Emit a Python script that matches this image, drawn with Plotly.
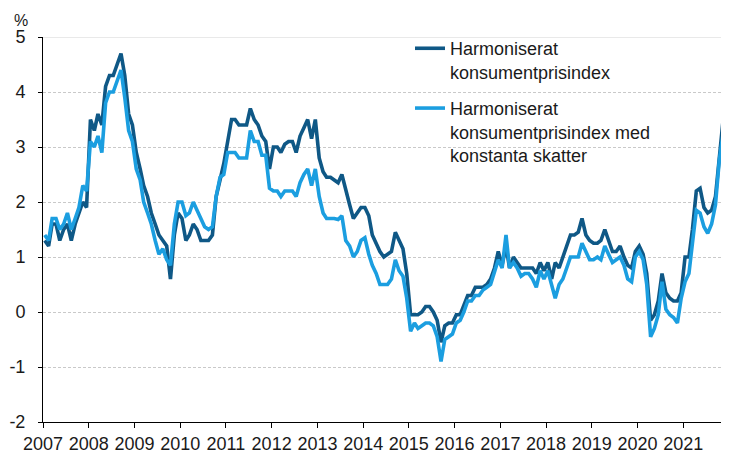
import pandas as pd
import plotly.graph_objects as go

# Monthly observations, Jan 2007 - Dec 2021 (annual change, %), plotted mid-month
months = pd.date_range("2007-01-01", "2021-12-01", freq="MS") + pd.Timedelta(days=14)

hicp = [
    1.3, 1.2, 1.6, 1.6, 1.3, 1.5, 1.6, 1.3, 1.6, 1.8, 2.0, 1.9,      # 2007
    3.5, 3.3, 3.6, 3.4, 4.1, 4.3, 4.3, 4.5, 4.7, 4.3, 3.6, 3.4,      # 2008
    2.9, 2.6, 2.3, 2.1, 1.8, 1.6, 1.4, 1.3, 1.2, 0.6, 1.4, 1.8,      # 2009
    1.7, 1.3, 1.4, 1.6, 1.5, 1.3, 1.3, 1.3, 1.4, 2.1, 2.4, 2.7,      # 2010
    3.1, 3.5, 3.5, 3.4, 3.4, 3.4, 3.7, 3.5, 3.4, 3.2, 3.1, 2.6,      # 2011
    3.0, 3.0, 2.9, 3.05, 3.1, 3.1, 2.9, 3.2, 3.35, 3.5, 3.15, 3.5,   # 2012
    2.8, 2.55, 2.45, 2.45, 2.4, 2.35, 2.5, 2.2, 1.95, 1.7, 1.8, 1.9, # 2013
    1.9, 1.75, 1.4, 1.25, 1.1, 1.0, 1.05, 1.1, 1.45, 1.3, 1.15, 0.7, # 2014
    -0.05, -0.05, -0.05, 0.0, 0.1, 0.1, 0.0, -0.15, -0.55, -0.25, -0.2, -0.2,  # 2015
    -0.05, -0.05, 0.1, 0.3, 0.3, 0.45, 0.45, 0.45, 0.5, 0.6, 0.8, 1.1,  # 2016
    0.85, 1.2, 0.8, 1.0, 0.9, 0.8, 0.8, 0.8, 0.8, 0.7, 0.9, 0.75,   # 2017
    0.9, 0.6, 0.9, 0.8, 1.0, 1.2, 1.4, 1.4, 1.45, 1.7, 1.4, 1.3,    # 2018
    1.25, 1.25, 1.3, 1.5, 1.3, 1.1, 1.1, 1.2, 1.0, 0.85, 0.8, 1.1,  # 2019
    1.2, 1.05, 0.7, -0.15, -0.05, 0.2, 0.7, 0.35, 0.25, 0.2, 0.2, 0.35,  # 2020
    1.0, 1.0, 1.5, 2.2, 2.25, 1.9, 1.8, 1.85, 2.1, 2.8, 3.5, 3.2,   # 2021
]

hicp_ct = [
    1.4, 1.3, 1.7, 1.7, 1.5, 1.6, 1.8, 1.5, 1.7, 1.9, 2.3, 2.2,      # 2007
    3.1, 3.0, 3.2, 2.9, 3.8, 4.0, 4.0, 4.2, 4.4, 3.9, 3.3, 3.1,      # 2008
    2.6, 2.4, 2.0, 1.8, 1.6, 1.3, 1.05, 1.15, 0.95, 0.85, 1.6, 2.0,  # 2009
    2.0, 1.75, 1.8, 2.0, 1.85, 1.7, 1.55, 1.5, 1.55, 2.1, 2.45, 2.5, # 2010
    2.9, 2.9, 2.9, 2.8, 2.8, 2.8, 3.3, 3.1, 3.1, 2.85, 2.85, 2.25,   # 2011
    2.2, 2.2, 2.1, 2.2, 2.2, 2.2, 2.1, 2.35, 2.5, 2.6, 2.3, 2.6,     # 2012
    2.1, 1.8, 1.7, 1.7, 1.7, 1.68, 1.75, 1.3, 1.2, 1.0, 1.1, 1.3,    # 2013
    1.35, 1.05, 0.85, 0.7, 0.5, 0.5, 0.5, 0.6, 0.95, 0.75, 0.65, 0.25,  # 2014
    -0.35, -0.2, -0.3, -0.25, -0.2, -0.2, -0.25, -0.45, -0.9, -0.5, -0.45, -0.4,  # 2015
    -0.2, -0.15, 0.0, 0.2, 0.2, 0.3, 0.3, 0.4, 0.45, 0.5, 0.73, 0.95,  # 2016
    0.8, 1.4, 0.8, 0.9, 0.8, 0.65, 0.7, 0.7, 0.6, 0.45, 0.75, 0.6,   # 2017
    0.75, 0.45, 0.25, 0.5, 0.6, 0.8, 1.0, 1.0, 1.0, 1.25, 1.1, 0.95, # 2018
    0.95, 1.0, 0.95, 1.2, 1.05, 0.9, 0.95, 1.0, 0.85, 0.6, 0.55, 1.0,  # 2019
    1.1, 0.95, 0.5, -0.45, -0.3, -0.05, 0.55, 0.05, -0.05, -0.1, -0.2, 0.25,  # 2020
    0.55, 0.7, 1.25, 1.85, 1.8, 1.55, 1.43, 1.6, 1.95, 2.75, 3.25, 3.0,  # 2021
]

series_names = [
    "Harmoniserat<br>konsumentprisindex",
    "Harmoniserat<br>konsumentprisindex med<br>konstanta skatter",
]
series_colors = ["#0f5886", "#1b9ee0"]

year_ticks = list(range(2007, 2022))
y_ticks = [-2, -1, 0, 1, 2, 3, 4, 5]
y_tick_labels = ["-2", "-1", "0", "1", "2", "3", "4", "5"]

FONT = "Liberation Sans, Arial, sans-serif"

fig = go.Figure()
for vals, name, col in zip([hicp, hicp_ct], series_names, series_colors):
    fig.add_trace(go.Scatter(
        x=months, y=vals, mode="lines", name=name, legendgroup=name,
        line=dict(color=col, width=3.6),
    ))

fig.update_layout(
    width=729, height=453,
    margin=dict(l=35, r=7.5, t=29, b=39),
    paper_bgcolor="white", plot_bgcolor="white",
    font=dict(family=FONT, size=18, color="#1a1a1a"),
    showlegend=True,
    legend=dict(
        x=0.535, xanchor="left", y=1.018, yanchor="top",
        bgcolor="rgba(0,0,0,0)", borderwidth=0,
        font=dict(family=FONT, size=18, color="#1a1a1a"),
        traceorder="grouped", tracegroupgap=10, valign="top",
    ),
    xaxis=dict(
        type="date",
        range=["2007-01-01", "2022-01-01"],
        tickvals=[f"{y}-01-01" for y in year_ticks],
        ticktext=[str(y) for y in year_ticks],
        showgrid=False, zeroline=False, automargin=False,
        showline=True, linecolor="black", linewidth=1,
        ticks="outside", ticklen=5, tickcolor="black",
        tickfont=dict(family=FONT, size=18, color="#1a1a1a"),
    ),
    yaxis=dict(
        range=[-2, 5],
        tickvals=y_ticks, ticktext=y_tick_labels,
        showgrid=True, gridcolor="#c9c9c9", gridwidth=1, griddash="3px,2px",
        zeroline=False, automargin=False,
        showline=True, linecolor="black", linewidth=1,
        ticks="outside", ticklen=4, tickcolor="black",
        ticklabelstandoff=9,
        tickfont=dict(family=FONT, size=18, color="#1a1a1a"),
    ),
    annotations=[dict(
        text="%", xref="paper", yref="paper", x=-0.032, y=1.0,
        xanchor="center", yanchor="bottom", yshift=6, showarrow=False,
        font=dict(family=FONT, size=16, color="#1a1a1a"),
    )],
    shapes=[
        dict(type="line", xref="paper", yref="y", x0=0, x1=1, y0=5, y1=5,
             line=dict(color="#d4d4d4", width=1), layer="below"),
        dict(type="rect", xref="paper", yref="y", x0=0.491, x1=0.937, y0=2.6, y1=4.9,
             fillcolor="white", line=dict(width=0), layer="between"),
    ],
)

fig.write_html("out.html")
